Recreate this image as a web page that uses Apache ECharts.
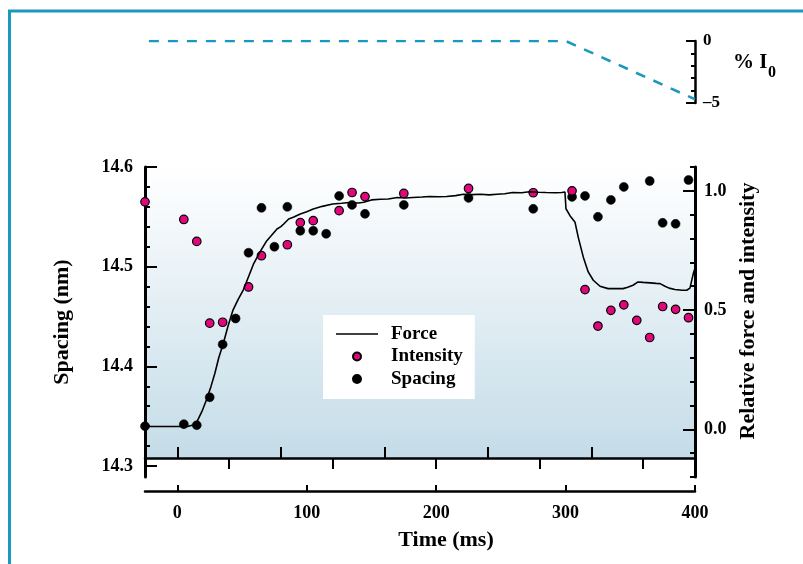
<!DOCTYPE html>
<html><head><meta charset="utf-8">
<script src="https://cdn.jsdelivr.net/npm/echarts@6/dist/echarts.min.js"></script>
<style>html,body{margin:0;padding:0;background:#fff}#c{width:803px;height:564px}</style>
</head><body><div id="c"></div>
<script>
// ---- data ----
const spacingTime = [-25, 5, 15, 25, 35, 45, 55, 65, 75, 85, 95, 105, 115, 125, 135, 145, 175, 225, 275, 305, 315, 325, 335, 345, 365, 375, 385, 395];
const spacingValues = [14.340, 14.342, 14.341, 14.369, 14.422, 14.448, 14.514, 14.559, 14.520, 14.560, 14.536, 14.536, 14.533, 14.571, 14.562, 14.553, 14.562, 14.569, 14.558, 14.570, 14.571, 14.550, 14.567, 14.580, 14.586, 14.544, 14.543, 14.587];

const intensityTime = [-25, 5, 15, 25, 35, 55, 65, 85, 95, 105, 125, 135, 145, 175, 225, 275, 305, 315, 325, 335, 345, 355, 365, 375, 385, 395];
const intensityValues = [0.954, 0.880, 0.788, 0.445, 0.449, 0.597, 0.728, 0.774, 0.867, 0.875, 0.917, 0.993, 0.976, 0.989, 1.010, 0.992, 1.000, 0.586, 0.433, 0.499, 0.522, 0.457, 0.385, 0.515, 0.503, 0.468];

const forceTime = [-25, 0, 8, 12, 15, 19, 22.6, 26, 29, 32, 35.5, 39, 43, 47, 51, 55, 59, 64, 69, 73, 77, 80, 82, 86, 90, 95, 100, 105, 112, 120, 127, 133, 140, 144, 150, 157, 163, 170, 176, 182, 189, 195, 202, 208, 215, 221, 228, 234, 241, 247, 253, 259, 266, 272, 279, 285, 292, 297, 299.5, 300.3, 303.4, 307.3, 309.8, 313.7, 317.5, 321.4, 326.6, 332.8, 338, 344.4, 348, 352.1, 356, 360, 365.3, 370, 373, 376.8, 380, 384.5, 390, 393.6, 396.1, 398.7, 400];
const forceValues = [0.012, 0.012, 0.012, 0.018, 0.03, 0.075, 0.125, 0.18, 0.235, 0.3, 0.36, 0.43, 0.5, 0.545, 0.585, 0.64, 0.695, 0.745, 0.79, 0.815, 0.84, 0.85, 0.86, 0.882, 0.89, 0.903, 0.912, 0.924, 0.935, 0.945, 0.948, 0.951, 0.949, 0.952, 0.962, 0.965, 0.966, 0.972, 0.97, 0.972, 0.974, 0.976, 0.975, 0.976, 0.98, 0.986, 0.984, 0.986, 0.983, 0.986, 0.988, 0.993, 0.992, 0.996, 0.994, 0.993, 0.992, 0.993, 0.995, 0.925, 0.896, 0.868, 0.805, 0.722, 0.66, 0.625, 0.6, 0.59, 0.59, 0.59, 0.596, 0.604, 0.618, 0.616, 0.614, 0.612, 0.611, 0.6, 0.592, 0.586, 0.583, 0.583, 0.592, 0.653, 0.675];

const lightTime = [-22, 300, 400];
const lightValues = [0, 0, -4.7];

// ---- ticks ----
const timeTicks = [0, 100, 200, 300, 400];
const innerTicksUp = [0, 80, 160, 240, 320];
const innerTicksDown = [40, 120, 200, 280, 360];
const spacingTicks = [14.3, 14.4, 14.5, 14.6];
const spacingMinorTicks = [14.32, 14.34, 14.36, 14.38, 14.42, 14.44, 14.46, 14.48, 14.52, 14.54, 14.56, 14.58];
const relTicks = [0, 0.5, 1.0];
const relMinorTicks = [-0.2, -0.1, 0.1, 0.2, 0.3, 0.4, 0.6, 0.7, 0.8, 0.9, 1.1];
const pctTicks = [0, -5];
const pctMinorTicks = [-1, -2, -3, -4];

const zip = (a, b) => a.map((v, i) => [v, b[i]]);
const FONT = "'Liberation Serif','Times New Roman',serif";
const TEAL = '#1b98c2';
const hidden = {show: false};
const noSplit = {show: false};

const chart = echarts.init(document.getElementById('c'), null, {renderer: 'canvas'});
chart.setOption({
  animation: false,
  backgroundColor: '#ffffff',
  grid: [
    {left: 145, right: 108, top: 167, bottom: 87, outerBoundsMode: 'none', containLabel: false},
    {left: 145, right: 108, top: 167, bottom: 106, outerBoundsMode: 'none', containLabel: false, show: true, borderWidth: 0,
     backgroundColor: {type: 'linear', x: 0, y: 0, x2: 0, y2: 1, colorStops: [{offset: 0, color: '#ffffff'}, {offset: 1, color: '#c4dce8'}]}},
    {left: 145, right: 108, top: 41, height: 62, outerBoundsMode: 'none', containLabel: false}
  ],
  xAxis: [
    {gridIndex: 0, type: 'value', min: -25, max: 400, position: 'bottom', offset: 14,
     axisLine: {show: true, onZero: false, lineStyle: {color: '#000', width: 2.5}},
     axisTick: {show: true, inside: true, length: 6, customValues: timeTicks, lineStyle: {color: '#000', width: 2}},
     axisLabel: {show: true, customValues: timeTicks, margin: 13, color: '#000', fontFamily: FONT, fontWeight: 'bold', fontSize: 18},
     splitLine: noSplit,
     name: 'Time (ms)', nameLocation: 'middle', nameGap: 38,
     nameTextStyle: {color: '#000', fontFamily: FONT, fontWeight: 'bold', fontSize: 22, padding: [0, 0, 0, 52]}},
    {gridIndex: 1, type: 'value', min: -25, max: 400, position: 'bottom',
     axisLine: {show: true, onZero: false, lineStyle: {color: '#000', width: 2.5}},
     axisTick: {show: true, inside: true, length: 11, customValues: innerTicksUp, lineStyle: {color: '#000', width: 2}},
     axisLabel: hidden, splitLine: noSplit},
    {gridIndex: 1, type: 'value', min: -25, max: 400, position: 'bottom',
     axisLine: {show: false, onZero: false},
     axisTick: {show: true, inside: false, length: 11, customValues: innerTicksDown, lineStyle: {color: '#000', width: 2}},
     axisLabel: hidden, splitLine: noSplit},
    {gridIndex: 2, type: 'value', min: -25, max: 400, show: false, splitLine: noSplit}
  ],
  yAxis: [
    {gridIndex: 0, type: 'value', min: 14.289, max: 14.6, position: 'left',
     axisLine: {show: true, onZero: false, lineStyle: {color: '#000', width: 3}},
     axisTick: {show: true, inside: true, length: 12, customValues: spacingTicks, lineStyle: {color: '#000', width: 2}},
     axisLabel: {show: true, customValues: spacingTicks, formatter: v => v.toFixed(1), margin: 12, color: '#000', fontFamily: FONT, fontWeight: 'bold', fontSize: 18},
     splitLine: noSplit,
     name: 'Spacing (nm)', nameLocation: 'middle', nameGap: 72,
     nameTextStyle: {color: '#000', fontFamily: FONT, fontWeight: 'bold', fontSize: 22}},
    {gridIndex: 0, type: 'value', min: 14.289, max: 14.6, position: 'left',
     axisLine: {show: false, onZero: false},
     axisTick: {show: true, inside: true, length: 5, customValues: spacingMinorTicks, lineStyle: {color: '#000', width: 2}},
     axisLabel: hidden, splitLine: noSplit},
    {gridIndex: 0, type: 'value', min: -0.2, max: 1.1, position: 'right',
     axisLine: {show: true, onZero: false, lineStyle: {color: '#000', width: 3}},
     axisTick: {show: true, inside: true, length: 12, customValues: relTicks, lineStyle: {color: '#000', width: 2}},
     axisLabel: {show: true, customValues: relTicks, formatter: v => v.toFixed(1), margin: 9, color: '#000', fontFamily: FONT, fontWeight: 'bold', fontSize: 18},
     splitLine: noSplit,
     name: 'Relative force and intensity', nameLocation: 'middle', nameGap: 42,
     nameTextStyle: {color: '#000', fontFamily: FONT, fontWeight: 'bold', fontSize: 22, padding: [0, 0, 0, 22]}},
    {gridIndex: 0, type: 'value', min: -0.2, max: 1.1, position: 'right',
     axisLine: {show: false, onZero: false},
     axisTick: {show: true, inside: true, length: 5, customValues: relMinorTicks, lineStyle: {color: '#000', width: 2}},
     axisLabel: hidden, splitLine: noSplit},
    {gridIndex: 1, type: 'value', min: 0, max: 1, show: false, splitLine: noSplit},
    {gridIndex: 2, type: 'value', min: -5, max: 0, position: 'right',
     axisLine: {show: true, onZero: false, lineStyle: {color: '#000', width: 2.5}},
     axisTick: {show: true, inside: true, length: 9, customValues: pctTicks, lineStyle: {color: '#000', width: 2}},
     axisLabel: {show: true, customValues: pctTicks, formatter: v => (v === 0 ? '0' : '\u20135'), margin: 8, color: '#000', fontFamily: FONT, fontWeight: 'bold', fontSize: 17},
     splitLine: noSplit},
    {gridIndex: 2, type: 'value', min: -5, max: 0, position: 'right',
     axisLine: {show: false, onZero: false},
     axisTick: {show: true, inside: true, length: 4, customValues: pctMinorTicks, lineStyle: {color: '#000', width: 2}},
     axisLabel: hidden, splitLine: noSplit}
  ],
  legend: {
    show: true, orient: 'vertical', left: 323, top: 315,
    padding: [8, 12, 9, 13], itemWidth: 42, itemHeight: 8, itemGap: 0.5,
    backgroundColor: '#ffffff', selectedMode: false,
    data: [
      {name: 'Force', icon: 'path://M0,0H42V1.6H0Z', itemStyle: {color: '#000', borderWidth: 0}},
      'Intensity',
      'Spacing'
    ],
    textStyle: {color: '#000', fontFamily: FONT, fontWeight: 'bold', fontSize: 19, lineHeight: 22, padding: [0, 0, 0, 8]}
  },
  series: [
    {name: 'Spacing', type: 'scatter', xAxisIndex: 0, yAxisIndex: 0, data: zip(spacingTime, spacingValues),
     symbol: 'circle', symbolSize: 9, itemStyle: {color: '#000', borderColor: '#000', borderWidth: 0.5, opacity: 1}, z: 3},
    {name: 'Intensity', type: 'scatter', xAxisIndex: 0, yAxisIndex: 2, data: zip(intensityTime, intensityValues),
     symbol: 'circle', symbolSize: 8.5, itemStyle: {color: '#e0077d', borderColor: '#000', borderWidth: 1.2, opacity: 1}, z: 3},
    {name: 'Force', type: 'line', xAxisIndex: 0, yAxisIndex: 2, data: zip(forceTime, forceValues),
     symbol: 'none', showSymbol: false, lineStyle: {color: '#000', width: 1.6}, itemStyle: {color: '#000'}, z: 4},
    {name: 'Light', type: 'line', xAxisIndex: 3, yAxisIndex: 5, data: zip(lightTime, lightValues),
     symbol: 'none', showSymbol: false, lineStyle: {color: TEAL, width: 2.6, type: [10, 9]}, z: 2}
  ],
  graphic: [
    {type: 'rect', shape: {x: 9.5, y: 11, width: 1200, height: 1000}, style: {fill: 'none', stroke: TEAL, lineWidth: 3}, silent: true, z: 10},
    {type: 'text', left: 733, top: 52, style: {text: '% I', fill: '#000', font: "bold 21px 'Liberation Serif','Times New Roman',serif"}, silent: true},
    {type: 'text', left: 768, top: 65, style: {text: '0', fill: '#000', font: "bold 16px 'Liberation Serif','Times New Roman',serif"}, silent: true}
  ]
});
</script>
</body></html>
